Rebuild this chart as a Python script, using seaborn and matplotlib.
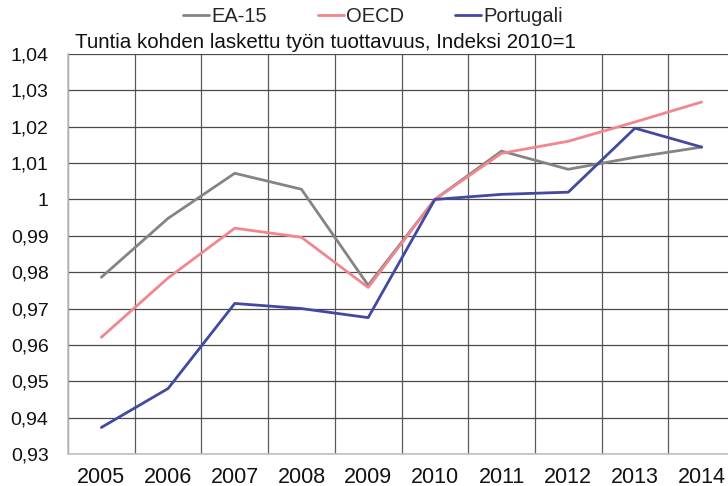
import numpy as np
import pandas as pd
import seaborn as sns
import matplotlib.pyplot as plt
from matplotlib.ticker import FixedLocator, FuncFormatter

# Data (index 2010 = 1)
years = [2005, 2006, 2007, 2008, 2009, 2010, 2011, 2012, 2013, 2014]
ea15 = [0.9786, 0.9948, 1.0072, 1.0028, 0.9764, 1.0000, 1.0133, 1.0083, 1.0116, 1.0144]
oecd = [0.9621, 0.9784, 0.9921, 0.9896, 0.9758, 1.0000, 1.0127, 1.0160, 1.0213, 1.0268]
portugali = [0.9373, 0.9480, 0.9714, 0.9700, 0.9675, 1.0000, 1.0014, 1.0020, 1.0196, 1.0144]
series_names = ['EA-15', 'OECD', 'Portugali']
colors = ['#848484', '#f0868e', '#4149a0']

df = pd.DataFrame({'EA-15': ea15, 'OECD': oecd, 'Portugali': portugali})
df['pos'] = np.arange(len(years))
long_df = df.melt(id_vars='pos', var_name='sarja', value_name='arvo')

sns.set_theme(style="white")
plt.rcParams['font.family'] = ['Liberation Sans', 'DejaVu Sans']

fig = plt.figure(figsize=(7.28, 4.86), dpi=100)
ax = fig.add_axes([68 / 728, 1 - 454 / 486, 667 / 728, 400 / 486])

sns.lineplot(data=long_df, x='pos', y='arvo', hue='sarja', hue_order=series_names,
             palette=colors, linewidth=2.0, ax=ax, legend=True)

ax.set_xlim(-0.5, len(years) - 0.5)
ax.set_ylim(0.93, 1.04)

# Gridlines: horizontal at every 0.01, vertical between categories
yticks = np.round(np.arange(0.93, 1.0401, 0.01), 2)
ax.yaxis.set_major_locator(FixedLocator(yticks))
ax.yaxis.set_major_formatter(FuncFormatter(
    lambda v, p: '1' if abs(v - 1) < 1e-9 else f"{v:.2f}".replace('.', ',')))
ax.set_xticks(range(len(years)))
ax.set_xticklabels([str(y) for y in years])
ax.xaxis.set_minor_locator(FixedLocator(np.arange(-0.5, len(years), 1.0)))
ax.grid(True, which='major', axis='y', color='#4a4a4a', linewidth=0.9)
ax.grid(True, which='minor', axis='x', color='#5a5a5a', linewidth=0.9)
ax.set_axisbelow(True)

ax.tick_params(axis='y', length=0, pad=14, labelsize=14, colors='#111111')
ax.tick_params(axis='x', which='both', length=0, pad=9, labelsize=15.5, colors='#111111')

for side in ['top', 'right']:
    ax.spines[side].set_visible(False)
for side in ['left', 'bottom']:
    ax.spines[side].set_color('#c0c0c0')
    ax.spines[side].set_linewidth(1.2)

ax.set_xlabel('')
ax.set_ylabel('')

# Legend on top: one entry per small legend so the spacing follows the reference
handles, labels = ax.get_legend_handles_labels()
ax.get_legend().remove()
legend_x = [183, 318, 455]
for h, lab, lx in zip(handles, labels, legend_x):
    leg = fig.legend([h], [lab], loc='center left', bbox_to_anchor=(lx / 728, 1 - 17 / 486),
                     frameon=False, fontsize=14.5, handlelength=1.3, handletextpad=0.1,
                     borderaxespad=0, borderpad=0)

fig.text(75 / 728, 1 - 42 / 486, 'Tuntia kohden laskettu työn tuottavuus, Indeksi 2010=1',
         fontsize=14.8, va='center', ha='left', color='#111111')

plt.savefig('out.png', dpi=100)
